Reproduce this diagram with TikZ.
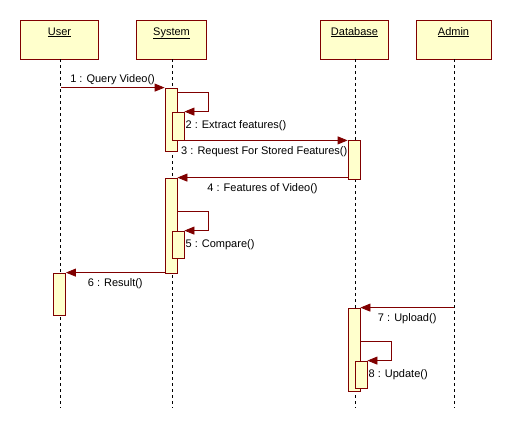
\documentclass[tikz,border=0pt]{standalone}
\usepackage{fontspec}
\setmainfont{Liberation Sans}
\usetikzlibrary{arrows.meta}
\definecolor{umlred}{RGB}{128,0,0}
\definecolor{umlfill}{RGB}{255,255,204}
\begin{document}
\begin{tikzpicture}[x=1pt, y=-1pt, line cap=butt, line join=miter, font=\fontsize{11}{13}\selectfont]

	% Styles for the sequence diagram
	\tikzset{
		head/.style={draw=umlred, fill=umlfill, line width=0.8pt, inner ysep=3pt, text height=12pt, text depth=21pt},
		life/.style={black, line width=0.7pt, dash pattern=on 3pt off 3pt},
		act/.style={draw=umlred, fill=umlfill, line width=0.8pt, minimum width=12pt, inner sep=0pt},
		msg/.style={umlred, line width=0.8pt, -{Triangle[length=10pt, width=8pt]}},
		lbl/.style={text=black, inner sep=1pt}
	}

	\useasboundingbox (0,0) rectangle (512,432);

	% ----------------------------------------------------
	% Objects and lifelines
	% ----------------------------------------------------
	\node[head, minimum width=78pt] (user) at (59.5,39.5) {\underline{User}};
	\node[head, minimum width=70pt] (system) at (171.5,39.5) {\underline{System}};
	\node[head, minimum width=68pt] (database) at (354.5,39.5) {\underline{Database}};
	\node[head, minimum width=75pt] (admin) at (453.5,39.5) {\underline{Admin}};

	\coordinate (userEnd) at (60.5,408);
	\coordinate (systemEnd) at (172,408);
	\coordinate (databaseEnd) at (355,408);
	\coordinate (adminEnd) at (454,408);

	\draw[life] (user.south -| userEnd) -- (userEnd);
	\draw[life] (system.south -| systemEnd) -- (systemEnd);
	\draw[life] (database.south -| databaseEnd) -- (databaseEnd);
	\draw[life] (admin.south -| adminEnd) -- (adminEnd);

	% ----------------------------------------------------
	% Activation bars
	% ----------------------------------------------------
	\node[act, minimum height=63pt] (sys1) at (171,119.5) {};
	\node[act, minimum height=28pt] (extract) at (178,126) {};
	\node[act, minimum height=39pt] (db1) at (354,159.5) {};
	\node[act, minimum height=95pt] (sys2) at (171,225.5) {};
	\node[act, minimum height=27pt] (compare) at (178,244.5) {};
	\node[act, minimum height=42pt] (user1) at (59.5,294) {};
	\node[act, minimum height=83pt] (db2) at (354,349.5) {};
	\node[act, minimum height=27pt] (update) at (361,374.5) {};

	% ----------------------------------------------------
	% Messages
	% ----------------------------------------------------
	\coordinate (m1) at (60.5,88);
	\draw[msg] (m1 |- sys1.north) -- (sys1.north west) node[lbl, midway, above=1pt] (l1) {1 : Query Video()};

	\draw[msg] (sys1.east |- 0,92) -- (208,92) |- (extract.north east);
	\node[lbl, anchor=west] (l2) at (extract.east) {2 : Extract features()};

	\draw[msg] (extract.south east) -- (extract.south east -| db1.west);
	\node[lbl, anchor=west] (l3) at (180,152) {3 : Request For Stored Features()};

	\draw[msg] (db1.south west |- sys2.north) -- (sys2.north east) node[lbl, midway, below=5pt] (l4) {4 : Features of Video()};

	\draw[msg] (sys2.east |- 0,211) -- (208,211) |- (compare.north east);
	\node[lbl, anchor=west] (l5) at (compare.east) {5 : Compare()};

	\draw[msg] (sys2.south west |- user1.north) -- (user1.north east) node[lbl, midway, below=5pt] (l6) {6 : Result()};

	\coordinate (m7) at (454,308);
	\draw[msg] (m7 |- db2.north) -- (db2.north east) node[lbl, midway, below=5pt] (l7) {7 : Upload()};

	\draw[msg] (db2.east |- 0,341) -- (391,341) |- (update.north east);
	\node[lbl, anchor=west] (l8) at (update.east) {8 : Update()};

\end{tikzpicture}
\end{document}
